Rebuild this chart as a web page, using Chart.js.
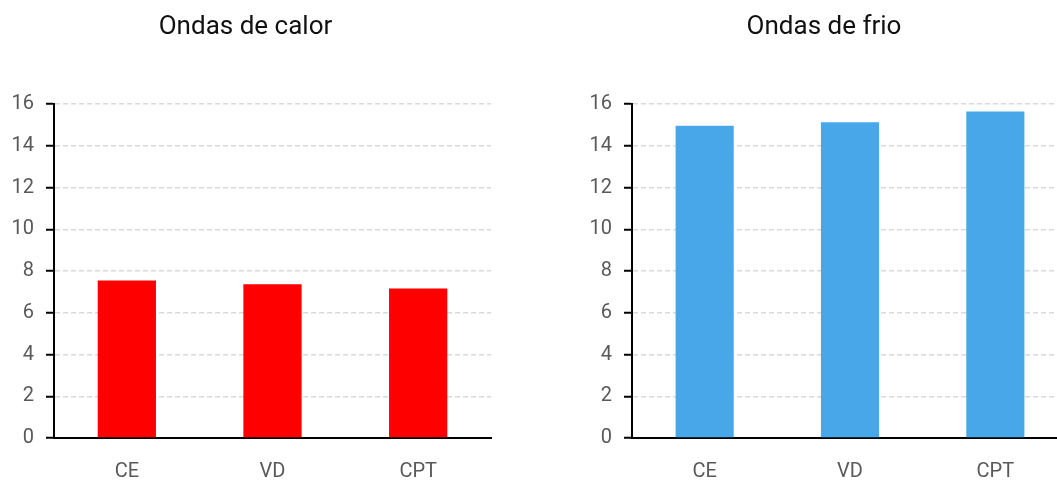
<!DOCTYPE html>
<html>
<head>
<meta charset="utf-8">
<script src="https://cdn.jsdelivr.net/npm/chart.js@4"></script>
<style>
  html, body { margin: 0; padding: 0; background: #fff; overflow: hidden; }
  body { width: 1057px; height: 480px; position: relative; }
  .box { position: absolute; top: 0; height: 480px; }
</style>
</head>
<body>
<div class="box" style="left:0;width:518px"><canvas id="calor"></canvas></div>
<div class="box" style="left:580px;width:516px"><canvas id="frio"></canvas></div>
<script>
// categorias e valores
const categorias = ['CE', 'VD', 'CPT'];
const ondasCalor = [7.55, 7.37, 7.17];
const ondasFrio = [14.97, 15.14, 15.65];
const yTicks = [0, 2, 4, 6, 8, 10, 12, 14, 16];

const fonte = "Roboto, 'Liberation Sans', sans-serif";

function criaGrafico(id, titulo, valores, cor, eixoLargura, padDireita) {
    const ctx = document.getElementById(id).getContext('2d');
    return new Chart(ctx, {
        type: 'bar',
        data: {
            labels: categorias,
            datasets: [{
                data: valores,
                backgroundColor: cor,
                borderWidth: 0,
                barPercentage: 0.4,
                categoryPercentage: 1
            }]
        },
        options: {
            responsive: true,
            maintainAspectRatio: false,
            animation: false,
            layout: { padding: { left: 0, right: padDireita, top: 0, bottom: 0 } },
            plugins: {
                legend: { display: false },
                tooltip: { enabled: false },
                title: {
                    display: true,
                    text: titulo,
                    color: '#111',
                    font: { family: fonte, size: 26, weight: 'normal' },
                    padding: { top: 12, bottom: 61 }
                }
            },
            scales: {
                x: {
                    grid: { display: false },
                    border: { display: true, color: '#000', width: 2 },
                    ticks: {
                        color: '#595959',
                        font: { family: fonte, size: 20 },
                        padding: 14
                    },
                    afterFit: s => { s.height = 42; }
                },
                y: {
                    min: 0,
                    max: 16,
                    afterBuildTicks: s => { s.ticks = yTicks.map(v => ({ value: v })); },
                    grid: {
                        color: '#d9d9d9',
                        lineWidth: 1.5,
                        borderDash: [5, 3],
                        tickColor: '#000',
                        tickLength: 8,
                        tickWidth: 2,
                        tickBorderDash: []
                    },
                    border: { display: true, color: '#000', width: 2, dash: [5, 3] },
                    ticks: {
                        color: '#595959',
                        font: { family: fonte, size: 20 },
                        padding: 12
                    },
                    afterFit: s => { s.width = eixoLargura; }
                }
            }
        }
    });
}

criaGrafico('calor', 'Ondas de calor', ondasCalor, '#ff0000', 54, 27);
criaGrafico('frio', 'Ondas de frio', ondasFrio, '#47a7e9', 52, 28);
</script>
</body>
</html>
